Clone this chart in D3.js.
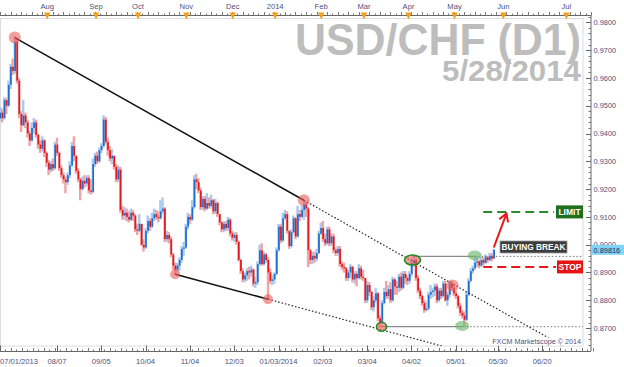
<!DOCTYPE html>
<html><head><meta charset="utf-8">
<script src="https://cdn.jsdelivr.net/npm/d3@7"></script>
<style>body{margin:0;background:#fff;} svg{display:block;font-family:"Liberation Sans",Arial,sans-serif;}</style>
</head><body><svg id="c" width="624" height="367"></svg>
<script>
// ---------------- DATA ----------------
const firstOpen = 0.9455;
const closes = [
.9475,.9455,.9520,.9500,.9575,.9640,.9625,.9730,.9590,.9470,
.9430,.9465,.9440,.9400,.9375,.9420,.9440,.9395,.9360,.9345,
.9375,.9330,.9295,.9270,.9290,.9275,.9360,.9330,.9275,.9250,
.9235,.9225,.9250,.9285,.9355,.9320,.9265,.9235,.9200,.9230,
.9220,.9240,.9195,.9190,.9290,.9320,.9300,.9340,.9355,.9450,
.9370,.9340,.9310,.9320,.9280,.9235,.9270,.9125,.9105,.9115,
.9100,.9090,.9115,.9105,.9055,.9050,.9075,.9000,.8990,.9050,
.9085,.9065,.9095,.9110,.9100,.9095,.9120,.9130,.9020,.9035,
.9020,.8965,.8925,.8910,.8925,.8945,.8985,.8990,.9065,.9100,
.9090,.9135,.9235,.9225,.9195,.9135,.9165,.9130,.9150,.9140,
.9160,.9120,.9150,.9110,.9080,.9055,.9075,.9060,.9090,.9040,
.9025,.9035,.9010,.8945,.8905,.8875,.8890,.8905,.8900,.8910,
.8860,.8865,.8930,.8980,.8930,.8965,.8945,.8900,.8870,.8875,
.8895,.8980,.9065,.9015,.9095,.9110,.9050,.8995,.9045,.9095,
.9030,.9110,.9100,.9125,.9145,.9130,.8980,.8945,.8960,.8950,
.8970,.9040,.9060,.9020,.9005,.9055,.9005,.9030,.8980,.8970,
.8985,.8930,.8920,.8915,.8880,.8900,.8920,.8875,.8895,.8880,
.8915,.8885,.8880,.8800,.8855,.8830,.8775,.8800,.8825,.8735,
.8720,.8790,.8830,.8815,.8840,.8800,.8875,.8850,.8845,.8885,
.8845,.8895,.8880,.8870,.8895,.8935,.8945,.8880,.8835,.8815,
.8790,.8765,.8770,.8820,.8830,.8835,.8850,.8800,.8835,.8815,
.8860,.8800,.8820,.8860,.8845,.8825,.8815,.8780,.8755,.8745,
.8730,.8820,.8870,.8905,.8915,.8935,.8940,.8925,.8945,.8935,
.8955,.8945,.8960,.8950,.89816];
const highs = [
.9495,.9490,.9530,.9528,.9590,.9650,.9670,.9750,.9745,.9600,
.9480,.9520,.9475,.9450,.9410,.9440,.9455,.9450,.9400,.9375,
.9390,.9380,.9335,.9305,.9300,.9310,.9370,.9385,.9335,.9285,
.9260,.9245,.9260,.9300,.9370,.9390,.9320,.9275,.9240,.9245,
.9250,.9250,.9250,.9235,.9310,.9330,.9335,.9350,.9365,.9465,
.9460,.9385,.9355,.9345,.9320,.9290,.9285,.9280,.9140,.9135,
.9130,.9120,.9130,.9125,.9110,.9075,.9110,.9075,.9020,.9060,
.9105,.9095,.9115,.9130,.9125,.9120,.9160,.9170,.9135,.9050,
.9045,.9030,.8970,.8935,.8935,.8955,.8995,.9010,.9075,.9115,
.9110,.9160,.9250,.9255,.9240,.9205,.9175,.9175,.9185,.9170,
.9180,.9165,.9165,.9155,.9110,.9085,.9085,.9085,.9100,.9095,
.9050,.9045,.9045,.9015,.8950,.8915,.8900,.8915,.8920,.8925,
.8915,.8885,.8940,.9000,.9005,.8975,.8970,.8955,.8915,.8890,
.8900,.8990,.9075,.9075,.9115,.9125,.9120,.9050,.9055,.9105,
.9100,.9140,.9125,.9140,.9160,.9155,.9135,.8985,.8975,.8975,
.8985,.9050,.9080,.9085,.9040,.9065,.9065,.9040,.9040,.8990,
.8995,.8995,.8940,.8935,.8920,.8910,.8930,.8925,.8905,.8905,
.8930,.8925,.8910,.8880,.8870,.8865,.8835,.8815,.8845,.8830,
.8745,.8800,.8845,.8870,.8855,.8865,.8885,.8880,.8870,.8895,
.8900,.8905,.8905,.8890,.8905,.8950,.8955,.8950,.8890,.8845,
.8820,.8800,.8795,.8830,.8855,.8845,.8860,.8860,.8845,.8845,
.8870,.8870,.8830,.8870,.8870,.8860,.8835,.8820,.8790,.8765,
.8760,.8830,.8880,.8915,.8925,.8960,.8960,.8945,.8955,.8955,
.8965,.8960,.8970,.8970,.8985];
const lows = [
.9445,.9440,.9450,.9470,.9495,.9560,.9610,.9615,.9580,.9455,
.9405,.9425,.9420,.9385,.9355,.9370,.9400,.9385,.9345,.9330,
.9335,.9315,.9280,.9250,.9260,.9265,.9270,.9320,.9265,.9240,
.9220,.9185,.9215,.9240,.9280,.9300,.9255,.9225,.9160,.9195,
.9205,.9210,.9185,.9180,.9185,.9280,.9290,.9295,.9330,.9350,
.9360,.9320,.9300,.9290,.9270,.9225,.9225,.9115,.9090,.9090,
.9085,.9080,.9085,.9085,.9045,.9035,.9045,.8995,.8975,.8985,
.9040,.9050,.9060,.9085,.9090,.9080,.9090,.9110,.9010,.9010,
.9005,.8955,.8910,.8893,.8900,.8905,.8935,.8960,.8985,.9055,
.9075,.9085,.9130,.9200,.9185,.9125,.9125,.9120,.9125,.9130,
.9130,.9110,.9110,.9100,.9070,.9045,.9045,.9050,.9050,.9030,
.9015,.9010,.9000,.8940,.8895,.8865,.8865,.8870,.8875,.8885,
.8850,.8845,.8855,.8925,.8925,.8925,.8935,.8804,.8860,.8855,
.8860,.8890,.8975,.9005,.9010,.9090,.9040,.8985,.8990,.9040,
.9020,.9025,.9085,.9095,.9090,.9100,.8920,.8930,.8930,.8935,
.8940,.8965,.9035,.9010,.8995,.9000,.8995,.8995,.8970,.8960,
.8960,.8920,.8910,.8900,.8870,.8870,.8880,.8865,.8860,.8850,
.8875,.8875,.8870,.8790,.8790,.8815,.8765,.8760,.8790,.8725,
.8702,.8715,.8785,.8805,.8805,.8790,.8795,.8820,.8820,.8830,
.8835,.8840,.8860,.8855,.8860,.8885,.8920,.8870,.8825,.8805,
.8780,.8755,.8760,.8765,.8805,.8810,.8815,.8790,.8795,.8805,
.8810,.8795,.8780,.8810,.8835,.8815,.8805,.8770,.8745,.8735,
.8705,.8725,.8815,.8865,.8895,.8910,.8920,.8915,.8920,.8925,
.8930,.8935,.8940,.8940,.8950];

const dateTickIdx    = [0, 27, 48, 69, 90, 111, 132, 153, 174, 195, 216, 236, 257];
const dateTickLabels = ["07/01/2013","08/07","09/05","10/04","11/04","12/03","01/03/2014","02/03","03/04","04/02","05/01","05/30","06/20"];
const monthIdx    = [22.4, 45.5, 65.4, 88.3, 110.3, 130.4, 152.2, 172.5, 193.6, 215.4, 238.5, 268.4];
const monthLabels = ["Aug","Sep","Oct","Nov","Dec","2014","Feb","Mar","Apr","May","Jun","Jul"];
const priceTicks  = [0.87,0.88,0.89,0.90,0.91,0.92,0.93,0.94,0.95,0.96,0.97,0.98];
const lastPrice = 0.89816;

const upperTrend = [[7, 0.9745], [144, 0.9160]];
const lowerTrend = [[83, 0.8894], [127, 0.8804]];
const resistance = {from: 195.5, to: 225, price: 0.8958};
const support    = {from: 180.5, to: 219.5, price: 0.8705};
const redMarks   = [[7, 0.9745, 6], [83, 0.8894, 5], [127, 0.8804, 5], [144, 0.9160, 6], [214.5, 0.8853, 6]];
const ringMarks  = [[195.5, 0.8945, 8, 5], [180.8, 0.8705, 5, 4.5]];
const greenMarks = [[225, 0.8961, 7, 5], [219, 0.8708, 7, 5]];
const limitPrice = 0.9118, stopPrice = 0.8920;
const arrowFrom = [234, 0.8990], arrowTo = [240, 0.9112];

// ---------------- CHART ----------------
const svg = d3.select("#c");
const plotL = 0, plotR = 583, plotT = 18.5, plotB = 346;
const axisX = 591;
const x = d3.scaleLinear().domain([0, 276]).range([0, 582.4]);
const y = d3.scaleLinear().domain([0.87, 0.98]).range([328.1, 22.3]);
const labelColor = "#50507e";

svg.append("rect").attr("width",624).attr("height",367).attr("fill","#fff");
svg.append("rect").attr("x",plotL+0.5).attr("y",plotT).attr("width",plotR-plotL-0.5).attr("height",plotB-plotT)
  .attr("fill","#fff").attr("stroke","#dcdcdc").attr("stroke-width",1);

svg.append("clipPath").attr("id","clip").append("rect")
  .attr("x",plotL).attr("y",plotT).attr("width",plotR-plotL).attr("height",plotB-plotT);

// Title
svg.append("text").attr("x",581).attr("y",55).attr("text-anchor","end")
  .attr("font-size",45).attr("font-weight","bold").attr("fill","#bdbdbd")
  .attr("textLength",286).attr("lengthAdjust","spacingAndGlyphs").text("USD/CHF (D1)");
svg.append("text").attr("x",581).attr("y",81).attr("text-anchor","end")
  .attr("font-size",30).attr("font-weight","bold").attr("fill","#bdbdbd")
  .attr("textLength",139).attr("lengthAdjust","spacingAndGlyphs").text("5/28/2014");

const g = svg.append("g").attr("clip-path","url(#clip)");

// Candles
const candles = closes.map((c, i) => {
  const o = i === 0 ? firstOpen : closes[i-1];
  return {i, o, c, h: Math.max(highs[i], o, c), l: Math.min(lows[i], o, c)};
});
g.selectAll(".wick").data(candles).join("rect")
  .attr("x", d => x(d.i) - 1.2).attr("width", 2.4)
  .attr("y", d => y(d.h)).attr("height", d => Math.max(1, y(d.l) - y(d.h)))
  .attr("fill", d => d.c >= d.o ? "#a9c9ef" : "#f3a3a3");
g.selectAll(".body").data(candles).join("rect")
  .attr("x", d => x(d.i) - 0.5).attr("width", 1.7)
  .attr("y", d => y(Math.max(d.o, d.c))).attr("height", d => Math.max(1, Math.abs(y(d.o) - y(d.c))))
  .attr("fill", d => d.c >= d.o ? "#1b6fcf" : "#e5161c");

// Trend lines
function extend(pts, toIdx){
  const [a, b] = pts; const s = (b[1]-a[1])/(b[0]-a[0]);
  return [b, [toIdx, b[1] + s*(toIdx-b[0])]];
}
const line = d3.line().x(d => x(d[0])).y(d => y(d[1]));
g.append("path").attr("d", line(upperTrend)).attr("stroke","#111").attr("stroke-width",1.6).attr("fill","none");
g.append("path").attr("d", line(extend(upperTrend, 275))).attr("stroke","#222").attr("stroke-width",1.2)
  .attr("stroke-dasharray","1.5,2").attr("fill","none");
g.append("path").attr("d", line(lowerTrend)).attr("stroke","#111").attr("stroke-width",1.6).attr("fill","none");
g.append("path").attr("d", line(extend(lowerTrend, 275))).attr("stroke","#222").attr("stroke-width",1.2)
  .attr("stroke-dasharray","1.5,2").attr("fill","none");

// Horizontal levels
[resistance, support].forEach(r => {
  g.append("line").attr("x1", x(r.from)).attr("x2", x(r.to)).attr("y1", y(r.price)).attr("y2", y(r.price))
    .attr("stroke","#8a8a8a").attr("stroke-width",1.3);
  g.append("line").attr("x1", x(r.to)).attr("x2", plotR).attr("y1", y(r.price)).attr("y2", y(r.price))
    .attr("stroke","#777").attr("stroke-width",1).attr("stroke-dasharray","1.5,2");
});

// Marks
g.selectAll(".rm").data(redMarks).join("circle")
  .attr("cx", d => x(d[0])).attr("cy", d => y(d[1])).attr("r", d => d[2])
  .attr("fill","rgba(238,90,90,0.6)");
g.selectAll(".ring").data(ringMarks).join("ellipse")
  .attr("cx", d => x(d[0])).attr("cy", d => y(d[1])).attr("rx", d => d[2]).attr("ry", d => d[3])
  .attr("fill","rgba(238,90,90,0.6)").attr("stroke","#1e8a1e").attr("stroke-width",1.6);
g.selectAll(".gm").data(greenMarks).join("ellipse")
  .attr("cx", d => x(d[0])).attr("cy", d => y(d[1])).attr("rx", d => d[2]).attr("ry", d => d[3])
  .attr("fill","rgba(110,185,110,0.65)");

// Limit / stop
g.append("line").attr("x1", x(229)).attr("x2", 554).attr("y1", y(limitPrice)).attr("y2", y(limitPrice))
  .attr("stroke","#2c8c2c").attr("stroke-width",2).attr("stroke-dasharray","9,5");
g.append("line").attr("x1", x(229)).attr("x2", 556).attr("y1", y(stopPrice)).attr("y2", y(stopPrice))
  .attr("stroke","#e81818").attr("stroke-width",2).attr("stroke-dasharray","9,5");

function tag(xl, yc, w, h, fill, txt, size, col){
  svg.append("rect").attr("x",xl).attr("y",yc-h/2).attr("width",w).attr("height",h).attr("fill",fill);
  svg.append("text").attr("x",xl+w/2).attr("y",yc+size*0.36).attr("text-anchor","middle")
    .attr("font-size",size).attr("font-weight","bold").attr("fill",col).text(txt);
}
tag(556, y(limitPrice), 27, 13, "#1e6e1e", "LIMIT", 8.5, "#fff");
tag(557, y(stopPrice), 26, 13, "#e41515", "STOP", 8.5, "#fff");
svg.append("rect").attr("x",500).attr("y",241).attr("width",67).attr("height",12).attr("fill","#3d3d3d").attr("stroke","#9a9a9a").attr("stroke-width",0.8);
svg.append("text").attr("x",533.5).attr("y",250.3).attr("text-anchor","middle").attr("font-size",8.3)
  .attr("font-weight","bold").attr("fill","#fff").text("BUYING BREAK");

// Arrow
{
  const x1 = x(arrowFrom[0]), y1 = y(arrowFrom[1]), x2 = x(arrowTo[0]), y2 = y(arrowTo[1]);
  const ang = Math.atan2(y2-y1, x2-x1), L = 9, sp = 0.55;
  svg.append("line").attr("x1",x1).attr("y1",y1).attr("x2",x2).attr("y2",y2).attr("stroke","#e81818").attr("stroke-width",2);
  svg.append("path").attr("d", `M${x2-L*Math.cos(ang-sp)},${y2-L*Math.sin(ang-sp)}L${x2},${y2}L${x2-L*Math.cos(ang+sp)},${y2-L*Math.sin(ang+sp)}`)
    .attr("stroke","#e81818").attr("stroke-width",2).attr("fill","none");
}

// Watermark
svg.append("rect").attr("x",494).attr("y",337.5).attr("width",88).attr("height",8).attr("fill","rgba(255,255,255,0.85)");
svg.append("text").attr("x",581).attr("y",344).attr("text-anchor","end").attr("font-size",7.2)
  .attr("fill",labelColor).text("FXCM Marketscope © 2014");

// Right axis
svg.append("line").attr("x1",axisX).attr("x2",axisX).attr("y1",15).attr("y2",351).attr("stroke","#666").attr("stroke-width",1);
const minor = d3.range(0.864, 0.9821, 0.002);
svg.selectAll(".rmin").data(minor).join("line")
  .attr("x1", axisX-2.5).attr("x2", axisX).attr("y1", d => Math.round(y(d))+0.5).attr("y2", d => Math.round(y(d))+0.5)
  .attr("stroke","#777").attr("stroke-width",1);
svg.selectAll(".rmaj").data(priceTicks).join("line")
  .attr("x1", axisX-5).attr("x2", axisX).attr("y1", d => Math.round(y(d))+0.5).attr("y2", d => Math.round(y(d))+0.5)
  .attr("stroke","#666").attr("stroke-width",1);
svg.selectAll(".rlab").data(priceTicks).join("text")
  .attr("x", 593.5).attr("y", d => y(d)+2.6).attr("font-size",7.4).attr("fill",labelColor)
  .text(d => d3.format(".4f")(d));
// price tag
svg.append("rect").attr("x",591.5).attr("y",y(lastPrice)-5).attr("width",32.5).attr("height",10).attr("fill","#7fd3f6");
svg.append("text").attr("x",593.5).attr("y",y(lastPrice)+2.7).attr("font-size",7.4).attr("fill","#2a2a5a").text(lastPrice.toFixed(5));

// Top ruler
svg.append("line").attr("x1",0).attr("x2",axisX).attr("y1",15.5).attr("y2",15.5).attr("stroke","#666");
const topMinor = d3.range(0, 281, 2.5);
svg.selectAll(".tmin").data(topMinor).join("line")
  .attr("x1", d => Math.round(x(d))+0.5).attr("x2", d => Math.round(x(d))+0.5)
  .attr("y1", (d,i) => i%2 ? 13.5 : 12).attr("y2", 15.5).attr("stroke","#777");
svg.selectAll(".tri").data(monthIdx).join("path")
  .attr("d", d => `M${x(d)-3.2},12.5L${x(d)+3.2},12.5L${x(d)},19.5Z`).attr("fill","#f5a01a");
svg.selectAll(".mlab").data(monthIdx).join("text")
  .attr("x", d => x(d)).attr("y", 9).attr("text-anchor","middle").attr("font-size",7.6).attr("fill",labelColor)
  .text((d,i) => monthLabels[i]);

// Bottom ruler
svg.append("line").attr("x1",0).attr("x2",axisX).attr("y1",351.5).attr("y2",351.5).attr("stroke","#666");
const botMinor = d3.range(0, 281, 2.6);
svg.selectAll(".bmin").data(botMinor).join("line")
  .attr("x1", d => Math.round(x(d))+0.5).attr("x2", d => Math.round(x(d))+0.5)
  .attr("y1", (d,i) => i%2 ? 349.5 : 348).attr("y2", 351.5).attr("stroke","#777");
svg.selectAll(".bmaj").data(dateTickIdx).join("line")
  .attr("x1", d => Math.round(x(d))+0.5).attr("x2", d => Math.round(x(d))+0.5)
  .attr("y1", 345.5).attr("y2", 351.5).attr("stroke","#666");
svg.selectAll(".blab").data(dateTickIdx).join("text")
  .attr("x", d => d === 0 ? 0 : x(d)).attr("y", 363.5)
  .attr("text-anchor", d => d === 0 ? "start" : "middle")
  .attr("font-size",7.6).attr("fill",labelColor).text((d,i) => dateTickLabels[i]);
</script></body></html>
